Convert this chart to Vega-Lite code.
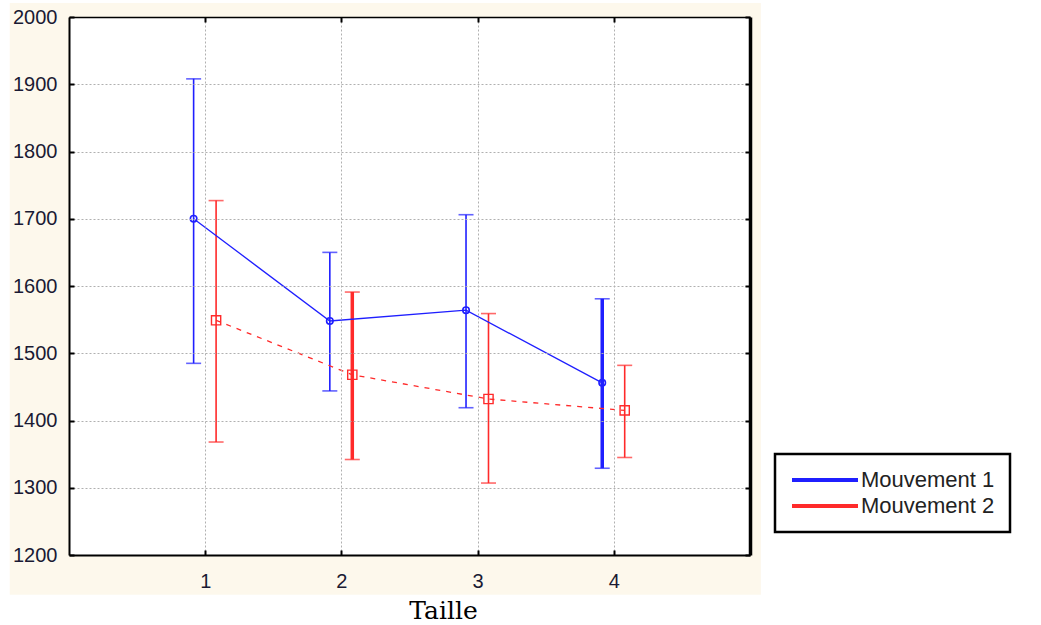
{
  "$schema": "https://vega.github.io/schema/vega-lite/v6.json",
  "width": 681,
  "height": 538,
  "autosize": {"type": "none"},
  "padding": {"left": 69, "top": 17, "right": 291, "bottom": 70},
  "background": "white",
  "config": {"view": {"stroke": null}},
  "datasets": {
    "means": [
      {"taille": 1, "series": "Mouvement 1", "mean": 1700, "low": 1485, "high": 1908},
      {"taille": 2, "series": "Mouvement 1", "mean": 1548, "low": 1444, "high": 1650},
      {"taille": 3, "series": "Mouvement 1", "mean": 1564, "low": 1419, "high": 1706},
      {"taille": 4, "series": "Mouvement 1", "mean": 1456, "low": 1329, "high": 1581},
      {"taille": 1, "series": "Mouvement 2", "mean": 1549, "low": 1368, "high": 1727},
      {"taille": 2, "series": "Mouvement 2", "mean": 1468, "low": 1342, "high": 1591},
      {"taille": 3, "series": "Mouvement 2", "mean": 1432, "low": 1307, "high": 1559},
      {"taille": 4, "series": "Mouvement 2", "mean": 1415, "low": 1345, "high": 1482}
    ]
  },
  "resolve": {"axis": {"x": "independent", "y": "independent"}},
  "layer": [
    {
      "data": {"values": [{}]},
      "mark": {"type": "rect", "color": "#fdf8ec", "clip": false},
      "encoding": {
        "x": {"datum": -0.435, "type": "quantitative", "axis": null, "scale": {"domain": [0, 5], "nice": false, "zero": false}},
        "x2": {"datum": 5.08},
        "y": {"datum": 1141, "type": "quantitative", "axis": null, "scale": {"domain": [1200, 2000], "nice": false, "zero": false}},
        "y2": {"datum": 2021}
      }
    },
    {
      "data": {"values": [{}]},
      "mark": {"type": "rect", "color": "white"},
      "encoding": {
        "x": {"datum": 0, "type": "quantitative", "axis": null},
        "x2": {"datum": 5},
        "y": {"datum": 1200, "type": "quantitative", "axis": null},
        "y2": {"datum": 2000}
      }
    },
    {
      "data": {"name": "means"},
      "transform": [{"calculate": "datum.taille + (datum.series == 'Mouvement 1' ? -0.085 : 0.08)", "as": "pos"}],
      "mark": {"type": "rule"},
      "encoding": {
        "x": {
          "field": "pos", "type": "quantitative",
          "axis": {
            "orient": "bottom", "values": [1, 2, 3, 4], "format": "d", "grid": true, "gridDash": [2, 2], "gridColor": "#b0b0b0", "gridWidth": 1,
            "domainColor": "black", "domainWidth": 2, "tickColor": "black", "tickWidth": 2, "tickSize": -5,
            "labelFont": "Liberation Sans", "labelFontSize": 20, "labelColor": "#1a1a33", "labelPadding": 21,
            "title": "Taille", "titleFont": "DejaVu Serif", "titleFontSize": 25, "titleFontWeight": "normal", "titleColor": "black",
            "titleX": 374, "titleY": 63, "titleBaseline": "alphabetic", "titleAlign": "center", "zindex": 1
          }
        },
        "y": {
          "field": "low", "type": "quantitative",
          "axis": {
            "orient": "left", "values": [1200, 1300, 1400, 1500, 1600, 1700, 1800, 1900, 2000], "format": "d", "grid": true, "gridDash": [2, 2], "gridColor": "#b0b0b0", "gridWidth": 1,
            "domainColor": "black", "domainWidth": 2, "tickColor": "black", "tickWidth": 2, "tickSize": -5,
            "labelFont": "Liberation Sans", "labelFontSize": 20, "labelColor": "#1a1a33", "labelPadding": 17,
            "title": null, "zindex": 1
          }
        },
        "y2": {"field": "high"},
        "color": {
          "field": "series", "type": "nominal",
          "scale": {"domain": ["Mouvement 1", "Mouvement 2"], "range": ["#1f1fff", "#ff2a2a"]},
          "legend": {
            "orient": "none", "legendX": 706, "legendY": 437, "title": null,
            "strokeColor": "black", "padding": 15, "fillColor": "white",
            "symbolType": "stroke", "symbolSize": 4356, "symbolStrokeWidth": 4, "symbolDash": [], "symbolOpacity": 1,
            "labelFont": "Liberation Sans", "labelFontSize": 22, "labelColor": "#222222", "labelOffset": 1, "rowPadding": 4, "labelLimit": 500,
            "encoding": {
              "legend": {"strokeWidth": {"value": 2.5}},
              "symbols": {
                "strokeWidth": {"value": 4},
                "opacity": {"value": 1},
                "y": {"value": 11}
              },
              "labels": {
                "y": {"value": 11},
                "text": {"value": {"signal": "datum.label + '\u00a0\u00a0\u00a0\u00a0\u00a0\u00a0\u00a0\u00a0\u00a0\u00a0\u00a0'"}}
              }
            }
          }
        },
        "strokeWidth": {
          "condition": {"test": "(datum.series == 'Mouvement 1' && datum.taille == 4) || (datum.series == 'Mouvement 2' && datum.taille == 2)", "value": 3.5},
          "value": 1.6
        }
      }
    },
    {
      "data": {"name": "means"},
      "transform": [{"calculate": "datum.taille + (datum.series == 'Mouvement 1' ? -0.085 : 0.08)", "as": "pos"}],
      "mark": {"type": "tick", "orient": "horizontal", "size": 15, "thickness": 1.6},
      "encoding": {
        "x": {"field": "pos", "type": "quantitative", "axis": null},
        "y": {"field": "low", "type": "quantitative", "axis": null},
        "color": {"field": "series", "type": "nominal"}
      }
    },
    {
      "data": {"name": "means"},
      "transform": [{"calculate": "datum.taille + (datum.series == 'Mouvement 1' ? -0.085 : 0.08)", "as": "pos"}],
      "mark": {"type": "tick", "orient": "horizontal", "size": 15, "thickness": 1.6},
      "encoding": {
        "x": {"field": "pos", "type": "quantitative", "axis": null},
        "y": {"field": "high", "type": "quantitative", "axis": null},
        "color": {"field": "series", "type": "nominal"}
      }
    },
    {
      "data": {"name": "means"},
      "transform": [
        {"filter": "datum.series == 'Mouvement 1'"},
        {"calculate": "datum.taille - 0.085", "as": "pos"}
      ],
      "mark": {"type": "line", "strokeWidth": 1.3},
      "encoding": {
        "x": {
          "field": "pos", "type": "quantitative",
          "axis": {"orient": "top", "values": [1, 2, 3, 4], "labels": false, "grid": false, "domainColor": "black", "domainWidth": 1.5, "tickColor": "black", "tickWidth": 2, "tickSize": -5, "title": null, "zindex": 1}
        },
        "y": {
          "field": "mean", "type": "quantitative",
          "axis": {"orient": "right", "values": [1200, 1300, 1400, 1500, 1600, 1700, 1800, 1900, 2000], "labels": false, "grid": false, "domainColor": "black", "domainWidth": 3.5, "tickColor": "black", "tickWidth": 2, "tickSize": -5, "title": null, "zindex": 1}
        },
        "color": {"field": "series", "type": "nominal"},
        "order": {"field": "taille"}
      }
    },
    {
      "data": {"name": "means"},
      "transform": [
        {"filter": "datum.series == 'Mouvement 2'"},
        {"calculate": "datum.taille + 0.08", "as": "pos"}
      ],
      "mark": {"type": "line", "strokeWidth": 1.3, "strokeDash": [5, 6]},
      "encoding": {
        "x": {"field": "pos", "type": "quantitative", "axis": null},
        "y": {"field": "mean", "type": "quantitative", "axis": null},
        "color": {"field": "series", "type": "nominal"},
        "order": {"field": "taille"}
      }
    },
    {
      "data": {"name": "means"},
      "transform": [
        {"filter": "datum.series == 'Mouvement 1'"},
        {"calculate": "datum.taille - 0.085", "as": "pos"}
      ],
      "mark": {"type": "point", "shape": "circle", "filled": false, "size": 42, "strokeWidth": 1.6, "opacity": 1},
      "encoding": {
        "x": {"field": "pos", "type": "quantitative", "axis": null},
        "y": {"field": "mean", "type": "quantitative", "axis": null},
        "color": {"field": "series", "type": "nominal"}
      }
    },
    {
      "data": {"name": "means"},
      "transform": [
        {"filter": "datum.series == 'Mouvement 2'"},
        {"calculate": "datum.taille + 0.08", "as": "pos"}
      ],
      "mark": {"type": "point", "shape": "square", "filled": false, "size": 85, "strokeWidth": 1.4, "opacity": 1},
      "encoding": {
        "x": {"field": "pos", "type": "quantitative", "axis": null},
        "y": {"field": "mean", "type": "quantitative", "axis": null},
        "color": {"field": "series", "type": "nominal"}
      }
    }
  ]
}
